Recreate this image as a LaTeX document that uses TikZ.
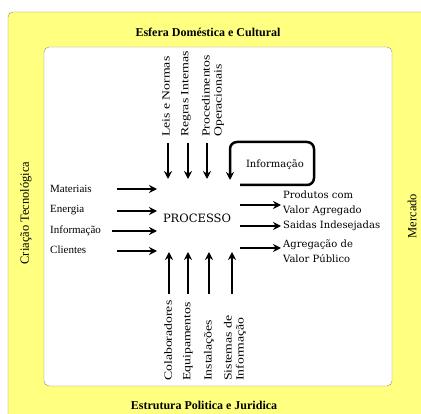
\documentclass[tikz,border=0pt]{standalone}
\usepackage{fontspec}
\setmainfont{Liberation Serif}
\newfontfamily\largafont[FakeStretch=1.25]{Liberation Serif}
\newfontfamily\serifdv{DejaVu Serif}
\usepackage{xcolor}
\usetikzlibrary{arrows.meta, calc}

\definecolor{amarelo}{RGB}{255,255,128}
\definecolor{borda}{RGB}{150,140,100}

\tikzset{
    seta/.style={line width=2.5pt, -{Stealth[length=8pt, width=8pt]}},
    rotulo/.style={font=\fontsize{11}{14}\selectfont, align=left, inner sep=0pt},
    saida/.style={font=\serifdv\fontsize{10}{15}\selectfont, align=left, inner sep=0pt},
    vert/.style={font=\largafont\fontsize{11}{12}\selectfont, align=left, inner sep=0pt,
        rotate=90, anchor=west},
    esfera/.style={font=\bfseries\fontsize{12}{14}\selectfont, inner sep=0pt},
    lado/.style={font=\fontsize{12.5}{14}\selectfont, inner sep=0pt, rotate=90}
}

\begin{document}
\begin{tikzpicture}[x=1pt, y=-1pt]
    \useasboundingbox (0,0) rectangle (421,414);

    % Draw the frames
    \draw[borda, fill=amarelo, rounded corners=5pt] (8,12) rectangle (450,450);
    \draw[borda, fill=white, rounded corners=5pt] (44,47) rectangle (392,386);

    % Label the spheres
    \node[esfera] (dom) at (208,32) {Esfera Doméstica e Cultural};
    \node[esfera] (jur) at (204,405) {Estrutura Politica e Juridica};
    \node[lado] (tec) at (26,213) {Criação Tecnológica};
    \node[lado] (merc) at (412,216) {Mercado};

    % The process
    \node[saida, font=\serifdv\fontsize{11.5}{14}\selectfont] (proc) at (197,218) {PROCESSO};

    % Inputs on the left
    \node[rotulo, anchor=west] (mat) at (50,189) {Materiais};
    \node[rotulo, anchor=west] (ene) at (50,210) {Energia};
    \node[rotulo, anchor=west] (inf) at (50,231) {Informação};
    \node[rotulo, anchor=west] (cli) at (50,250) {Clientes};

    \coordinate (matA) at (117,189);  \coordinate (matB) at (157,189);
    \coordinate (eneA) at (117,211);  \coordinate (eneB) at (157,211);
    \coordinate (infA) at (112,231);  \coordinate (infB) at (157,231);
    \coordinate (cliA) at (117,251);  \coordinate (cliB) at (157,251);

    \draw[seta] (matA) -- (matB);
    \draw[seta] (eneA) -- (eneB);
    \draw[seta] (infA) -- (infB);
    \draw[seta] (cliA) -- (cliB);

    % Controls on top
    \node[vert] (leis) at (166,137) {Leis e Normas};
    \node[vert] (regr) at (186,137) {Regras Internas};
    \node[vert] (proced) at (213,137) {Procedimentos\\Operacionais};

    \coordinate (leisA) at (168,143);  \coordinate (leisB) at (168,179);
    \coordinate (regrA) at (188,143);  \coordinate (regrB) at (188,179);
    \coordinate (procA) at (207,143);  \coordinate (procB) at (207,179);

    \draw[seta] (leisA) -- (leisB);
    \draw[seta] (regrA) -- (regrB);
    \draw[seta] (procA) -- (procB);

    % Feedback loop
    \node[saida] (retro) at (275,165) {Informação};
    \coordinate (fbA) at (240,185);
    \coordinate (fbB) at (230,180);
    \draw[seta, rounded corners=7pt] (fbA) -- (314,185) -- (314,142) -- (230,142) -- (fbB);

    % Outputs on the right
    \node[saida, anchor=west] (prod) at (283,203) {Produtos com\\Valor Agregado};
    \node[saida, anchor=west] (said) at (283,226) {Saidas Indesejadas};
    \node[saida, anchor=west] (agreg) at (283,251) {Agregação de\\Valor Público};

    \coordinate (prodA) at (240,205);  \coordinate (prodB) at (281,205);
    \coordinate (saidA) at (240,226);  \coordinate (saidB) at (281,226);
    \coordinate (agrA) at (240,248);   \coordinate (agrB) at (281,248);

    \draw[seta] (prodA) -- (prodB);
    \draw[seta] (saidA) -- (saidB);
    \draw[seta] (agrA) -- (agrB);

    % Resources at the bottom
    \node[vert] (colab) at (168,381) {Colaboradores};
    \node[vert] (equip) at (188,381) {Equipamentos};
    \node[vert] (inst) at (209,381) {Instalações};
    \node[vert] (sist) at (235,381) {Sistemas de\\Informação};

    \coordinate (colabA) at (169,294);  \coordinate (colabB) at (169,252);
    \coordinate (equipA) at (188,294);  \coordinate (equipB) at (188,252);
    \coordinate (instA) at (209,294);   \coordinate (instB) at (209,252);
    \coordinate (sistA) at (232,294);   \coordinate (sistB) at (232,252);

    \draw[seta] (colabA) -- (colabB);
    \draw[seta] (equipA) -- (equipB);
    \draw[seta] (instA) -- (instB);
    \draw[seta] (sistA) -- (sistB);
\end{tikzpicture}
\end{document}
